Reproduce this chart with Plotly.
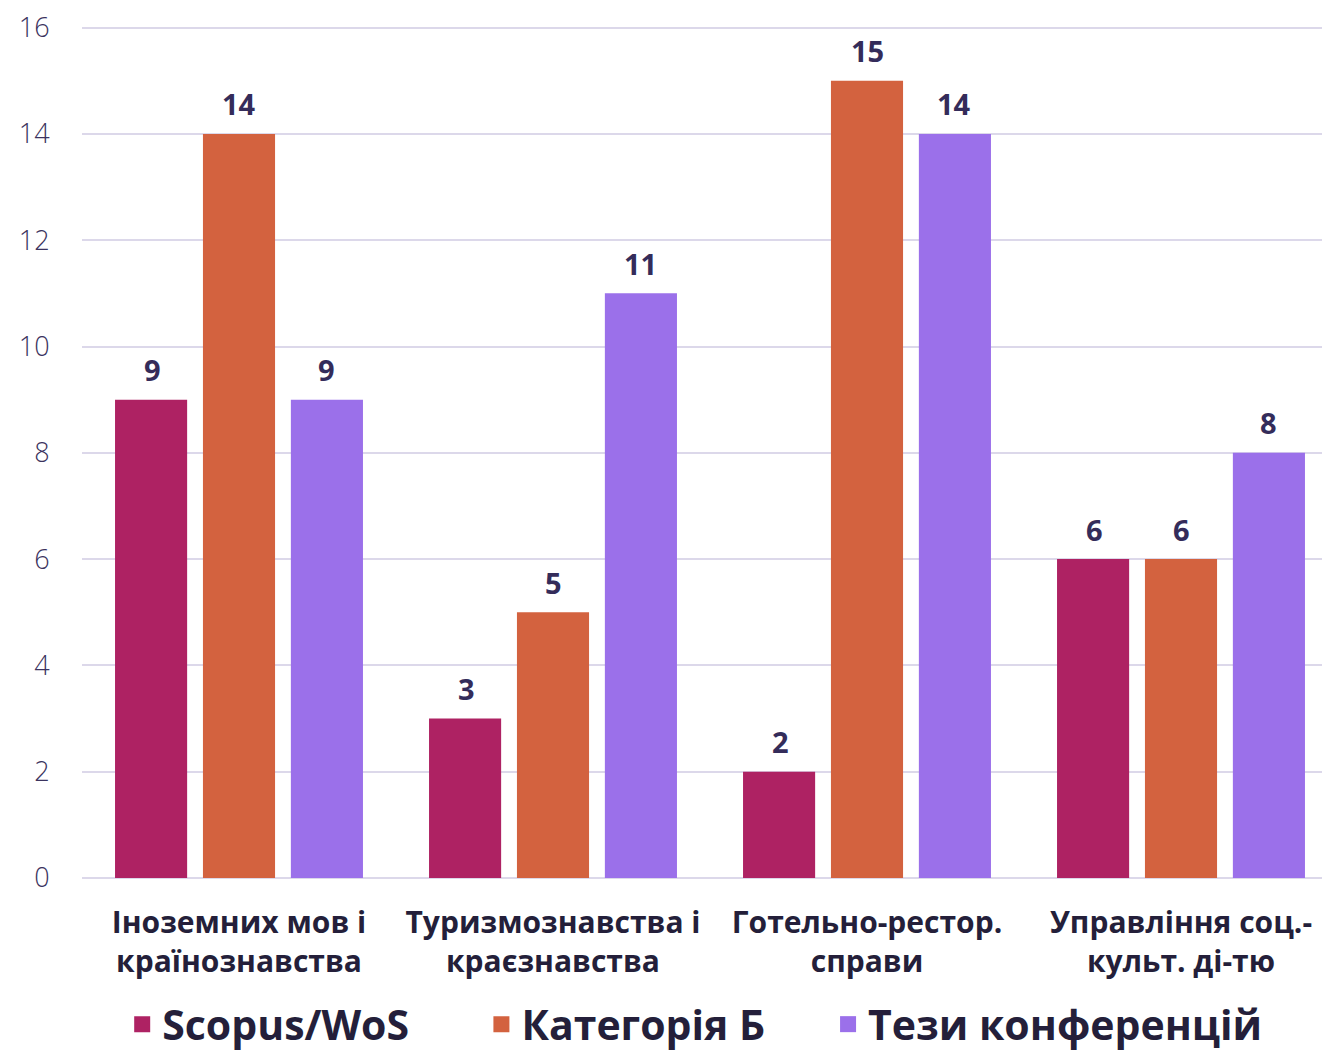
import plotly.graph_objects as go

categories = ["Іноземних мов і<br>країнознавства", "Туризмознавства і<br>краєзнавства",
              "Готельно-рестор.<br>справи", "Управління соц.-<br>культ. ді-тю"]
series_names = ["Scopus/WoS", "Категорія Б", "Тези конференцій"]
scopus = [9, 3, 2, 6]
cat_b = [14, 5, 15, 6]
tezy = [9, 11, 14, 8]
y_ticks = [0, 2, 4, 6, 8, 10, 12, 14, 16]

colors = ["#ae2263", "#d3623f", "#9b70ea"]
FONT = "Open Sans"
TXT = "#241f3a"
LBL = "#342c5a"
SLOT_PX = 87.0  # horizontal spacing between bars of a group, in pixels
legend_ids = ["legend", "legend2", "legend3"]
legend_x = [0.032, 0.318, 0.594]

fig = go.Figure()
all_series = [scopus, cat_b, tezy]
for name, vals, col in zip(series_names, all_series, colors):
    fig.add_trace(go.Bar(
        x=categories, y=vals, name=name, legendgroup=name, showlegend=False,
        marker=dict(color=col, line=dict(width=0)),
    ))
# legend entries (larger square swatches than the default bar icon)
for name, col, lid in zip(series_names, colors, legend_ids):
    fig.add_trace(go.Scatter(
        x=[None], y=[None], mode="markers", name=name, legendgroup=name,
        marker=dict(symbol="square", size=16, color=col), showlegend=True,
        legend=lid,
    ))

annotations = []
for si, vals in enumerate(all_series):
    for c, v in zip(categories, vals):
        annotations.append(dict(
            x=c, y=v, xref="x", yref="y", text=str(v), showarrow=False,
            xshift=(si - 1) * SLOT_PX, yshift=30, yanchor="middle",
            font=dict(family=FONT, size=29, color=LBL, weight="bold"),
        ))

legend_style = dict(orientation="h", xanchor="left", yref="container",
                    y=-0.008, yanchor="bottom",
                    font=dict(family=FONT, size=41, color=TXT, weight="bold"),
                    itemwidth=30, itemclick=False, itemdoubleclick=False,
                    bgcolor="rgba(0,0,0,0)")

fig.update_layout(
    width=1330, height=1050,
    margin=dict(l=74, r=0, t=18, b=180),
    paper_bgcolor="white", plot_bgcolor="white",
    barmode="group", bargap=0.16, bargroupgap=0.18,
    font=dict(family=FONT, color=TXT),
    annotations=annotations,
    xaxis=dict(tickfont=dict(family=FONT, size=30, color=TXT, weight="bold"),
               showgrid=False, showline=False, ticks="outside", ticklen=18,
               tickcolor="rgba(0,0,0,0)", automargin=False),
    yaxis=dict(range=[0, 16.03], tickvals=y_ticks, ticktext=[str(t) for t in y_ticks],
               tickfont=dict(family=FONT, size=27, color="#3b335e", weight=300),
               ticklabeloverflow="allow",
               showgrid=True, gridcolor="#dcd8ea", gridwidth=2,
               zeroline=True, zerolinecolor="#dcd8ea", zerolinewidth=2,
               showline=False, ticks="outside", ticklen=26,
               tickcolor="rgba(0,0,0,0)", automargin=False),
    legend=dict(x=legend_x[0], **legend_style),
    legend2=dict(x=legend_x[1], **legend_style),
    legend3=dict(x=legend_x[2], **legend_style),
    showlegend=True,
)
fig.write_html("out.html")
